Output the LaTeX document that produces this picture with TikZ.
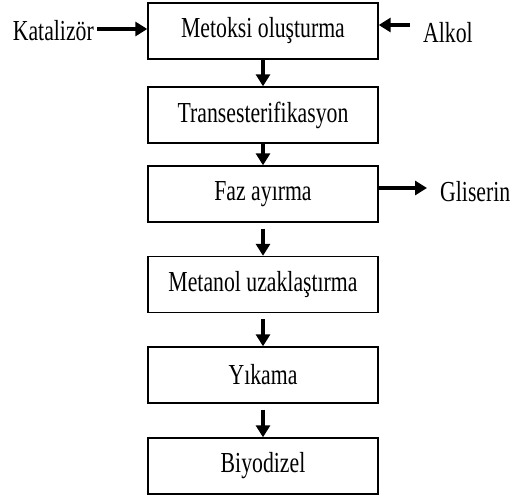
\documentclass[tikz,border=0pt]{standalone}
\usepackage{fontspec}
\setmainfont{Liberation Serif}[FakeStretch=0.75]
\usetikzlibrary{arrows.meta}
\begin{document}
\begin{tikzpicture}[x=1pt,y=-1pt,
  stepbox/.style={draw, line width=1.4pt, minimum width=230pt, minimum height=56pt, inner sep=0pt},
  lbl/.style={inner sep=0pt},
  flow/.style={line width=3.6pt, -{Triangle[length=12pt,width=14pt]}},
  every node/.style={font=\fontsize{29}{32}\selectfont}]
\useasboundingbox (0,0) rectangle (511,498);

\node[stepbox] (m1) at (263,31) {Metoksi oluşturma};
\node[stepbox] (m2) at (263,115) {Transesterifikasyon};
\node[stepbox] (m3) at (263,194) {Faz ayırma};
\node[stepbox] (m4) at (263,284.5) {Metanol uzaklaştırma};
\node[stepbox] (m5) at (263,375) {Yıkama};
\node[stepbox] (m6) at (263,466) {Biyodizel};

\node[lbl, anchor=east] (kat) at (94,31) {Katalizör};
\node[lbl, anchor=west] (alk) at (423,33) {Alkol};
\node[lbl, anchor=west] (gli) at (440,192) {Gliserin};

\coordinate (katend) at (97,29);
\coordinate (alkend) at (410,25);
\coordinate (glistart) at (378,188);

\draw[flow] (katend) -- (katend -| m1.west);
\draw[flow] (alkend) -- (alkend -| m1.east);
\draw[flow] (glistart) -- (427,188);

\draw[flow] (m1.south) -- (m2.north);
\draw[flow] (m2.south) -- (m3.north);
\draw[flow, shorten <=6pt] (m3.south) -- (m4.north);
\draw[flow, shorten <=6pt] (m4.south) -- (m5.north);
\draw[flow, shorten <=6pt] (m5.south) -- (m6.north);
\end{tikzpicture}
\end{document}
